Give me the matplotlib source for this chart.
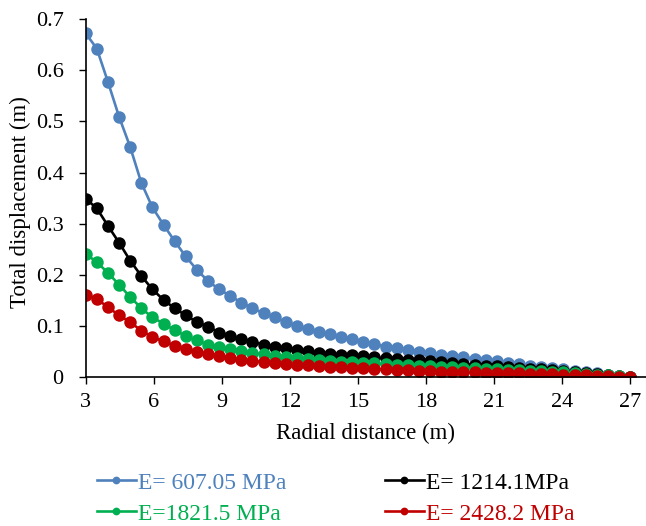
import matplotlib
matplotlib.use("Agg")
import matplotlib.pyplot as plt

# Radial distance (m) - 50 stations from 3 to 27 m
radial_distance = [3.00, 3.49, 3.98, 4.47, 4.96, 5.45, 5.94, 6.43, 6.92, 7.41,
                   7.90, 8.39, 8.88, 9.37, 9.86, 10.35, 10.84, 11.33, 11.82, 12.31,
                   12.80, 13.29, 13.78, 14.27, 14.76, 15.24, 15.73, 16.22, 16.71, 17.20,
                   17.69, 18.18, 18.67, 19.16, 19.65, 20.14, 20.63, 21.12, 21.61, 22.10,
                   22.59, 23.08, 23.57, 24.06, 24.55, 25.04, 25.53, 26.02, 26.51, 27.00]

disp_e607 = [0.672, 0.642, 0.577, 0.509, 0.450, 0.380, 0.332, 0.298, 0.266, 0.236,
             0.210, 0.188, 0.172, 0.159, 0.146, 0.135, 0.125, 0.117, 0.108, 0.101,
             0.094, 0.088, 0.084, 0.079, 0.075, 0.069, 0.065, 0.060, 0.057, 0.054,
             0.050, 0.047, 0.044, 0.041, 0.039, 0.036, 0.034, 0.031, 0.028, 0.026,
             0.023, 0.020, 0.018, 0.016, 0.013, 0.011, 0.008, 0.005, 0.003, 0.001]

disp_e1214 = [0.349, 0.330, 0.296, 0.263, 0.228, 0.198, 0.172, 0.151, 0.135, 0.121,
              0.108, 0.099, 0.0875, 0.080, 0.075, 0.069, 0.064, 0.060, 0.057, 0.054,
              0.051, 0.048, 0.046, 0.044, 0.043, 0.041, 0.039, 0.037, 0.036, 0.034,
              0.033, 0.031, 0.030, 0.028, 0.026, 0.025, 0.023, 0.022, 0.020, 0.019,
              0.017, 0.016, 0.014, 0.013, 0.011, 0.009, 0.007, 0.005, 0.003, 0.001]

disp_e1821 = [0.241, 0.225, 0.204, 0.181, 0.157, 0.135, 0.117, 0.105, 0.092, 0.081,
              0.072, 0.064, 0.059, 0.055, 0.051, 0.048, 0.045, 0.042, 0.040, 0.038,
              0.036, 0.034, 0.032, 0.030, 0.029, 0.028, 0.027, 0.026, 0.025, 0.024,
              0.023, 0.022, 0.021, 0.020, 0.019, 0.018, 0.017, 0.016, 0.015, 0.014,
              0.013, 0.012, 0.011, 0.010, 0.008, 0.007, 0.005, 0.004, 0.002, 0.001]

disp_e2428 = [0.161, 0.153, 0.137, 0.121, 0.108, 0.091, 0.079, 0.070, 0.062, 0.056,
              0.050, 0.045, 0.042, 0.037, 0.034, 0.032, 0.030, 0.028, 0.026, 0.025,
              0.024, 0.0225, 0.021, 0.020, 0.019, 0.0175, 0.0165, 0.0155, 0.0145, 0.0135,
              0.0125, 0.012, 0.011, 0.0105, 0.010, 0.0095, 0.009, 0.0085, 0.008, 0.0075,
              0.007, 0.0065, 0.006, 0.005, 0.0045, 0.004, 0.003, 0.002, 0.001, 0.0005]

labels = ["E= 607.05 MPa", "E= 1214.1MPa", "E=1821.5 MPa", "E= 2428.2 MPa"]
colors = ["#4F81BD", "#000000", "#00B050", "#C00000"]
series = [disp_e607, disp_e1214, disp_e1821, disp_e2428]

x_ticks = [3, 6, 9, 12, 15, 18, 21, 24, 27]
y_ticks = [0, 0.1, 0.2, 0.3, 0.4, 0.5, 0.6, 0.7]
y_ticklabels = ["0", "0.1", "0.2", "0.3", "0.4", "0.5", "0.6", "0.7"]

plt.rcParams['font.family'] = ['Liberation Serif', 'DejaVu Serif']

fig = plt.figure(figsize=(6.46, 5.26), dpi=100)
ax = fig.add_axes([0.1327, 0.2827, 0.8673, 0.6812])

lines = []
for vals, c, lab in zip(series, colors, labels):
    ln, = ax.plot(radial_distance, vals, color=c, lw=1.9, marker='o',
                  markersize=9, markeredgewidth=0, label=lab)
    lines.append(ln)

ax.set_xlim(3, 27.7)
ax.set_ylim(0, 0.7)
ax.set_xticks(x_ticks)
ax.set_xticklabels([str(t) for t in x_ticks])
ax.set_yticks(y_ticks)
ax.set_yticklabels(y_ticklabels)
ax.tick_params(axis='both', direction='out', length=5, width=1, labelsize=16,
               colors='black')
ax.tick_params(axis='y', pad=11)
ax.tick_params(axis='x', pad=6)
for s in ['top', 'right']:
    ax.spines[s].set_visible(False)
for s in ['left', 'bottom']:
    ax.spines[s].set_linewidth(1.2)
    ax.spines[s].set_color('black')

ax.set_xlabel("Radial distance (m)", fontsize=16.5, va='center')
ax.xaxis.set_label_coords(0.5, -0.158)
ax.set_ylabel("Total displacement (m)", fontsize=16.5, va='center')
ax.yaxis.set_label_coords(-0.117, 0.49)

order = [0, 2, 1, 3]
leg = fig.legend([lines[i] for i in order], [labels[i] for i in order],
                 ncol=2, loc='upper left', bbox_to_anchor=(0.1497, 0.1025),
                 frameon=False, fontsize=17, handlelength=1.65, handletextpad=0.12,
                 columnspacing=4.14, labelspacing=0.4, borderpad=0, borderaxespad=0,
                 markerscale=0.62)
for txt, i in zip(leg.get_texts(), order):
    txt.set_color(colors[i])

fig.savefig("out.png", dpi=100)
